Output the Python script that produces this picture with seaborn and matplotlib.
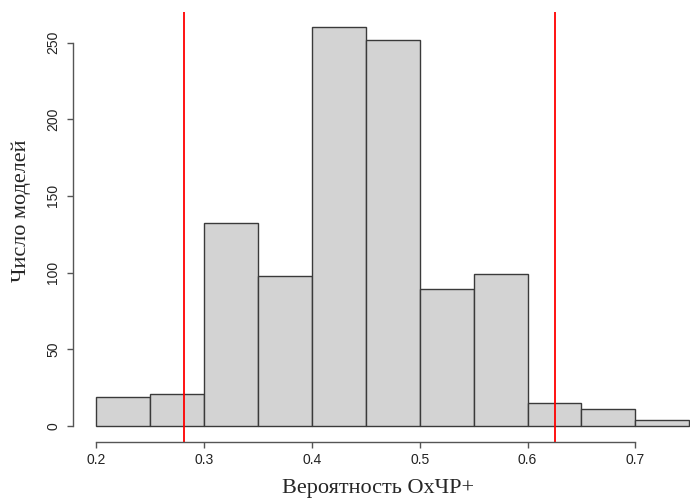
import numpy as np
import matplotlib
matplotlib.use('Agg')
import matplotlib.pyplot as plt
import seaborn as sns

# histogram bins (left edges) and counts
bin_left = [0.20, 0.25, 0.30, 0.35, 0.40, 0.45, 0.50, 0.55, 0.60, 0.65, 0.70]
counts = [19, 21, 132, 98, 260, 252, 89, 99, 15, 11, 4]
bin_width = 0.05
cutoffs = [0.281, 0.625]

x_ticks = [0.2, 0.3, 0.4, 0.5, 0.6, 0.7]
y_ticks = [0, 50, 100, 150, 200, 250]
x_label = 'Вероятность ОхЧР+'
y_label = 'Число моделей'

sns.set_style('white')
plt.rcParams['font.family'] = ['Liberation Sans', 'DejaVu Sans']

fig = plt.figure(figsize=(6.9, 5.0), dpi=100)
ax = fig.add_axes([72.7 / 690, 1 - 441.6 / 500, (713 - 72.7) / 690, (441.6 - 11.5) / 500])

centers = np.array(bin_left) + bin_width / 2
sns.histplot(x=centers, weights=counts, binwidth=bin_width,
             binrange=(bin_left[0], bin_left[-1] + bin_width),
             color='#D3D3D3', edgecolor='#3a3a3a', linewidth=1.0, alpha=1.0, ax=ax)

for c in cutoffs:
    ax.axvline(c, color='red', lw=1.3)

ax.set_xlim(0.178, 0.772)
ax.set_ylim(-10.4, 270.4)

for s in ['top', 'right']:
    ax.spines[s].set_visible(False)
ax.spines['left'].set_bounds(0, 250)
ax.spines['bottom'].set_bounds(0.2, 0.7)
for s in ['left', 'bottom']:
    ax.spines[s].set_color('#555555')
    ax.spines[s].set_linewidth(1.0)

ax.set_xticks(x_ticks)
ax.set_xticklabels([f'{t:.1f}' for t in x_ticks])
ax.set_yticks(y_ticks)
ax.set_yticklabels([str(t) for t in y_ticks], rotation=90, va='center')
ax.tick_params(axis='both', direction='out', length=4.5, width=1.0, color='#555555',
               labelsize=10, labelcolor='#222222', left=True, bottom=True)
ax.tick_params(axis='x', pad=4)
ax.tick_params(axis='y', pad=4.5)

ax.set_xlabel(x_label, family='Liberation Serif', fontsize=16, va='center')
ax.set_ylabel(y_label, family='Liberation Serif', fontsize=16, va='center')
ax.xaxis.set_label_coords(0.4768, -0.110)
ax.yaxis.set_label_coords(-0.080, 0.536)

fig.savefig('out.png', dpi=100)
